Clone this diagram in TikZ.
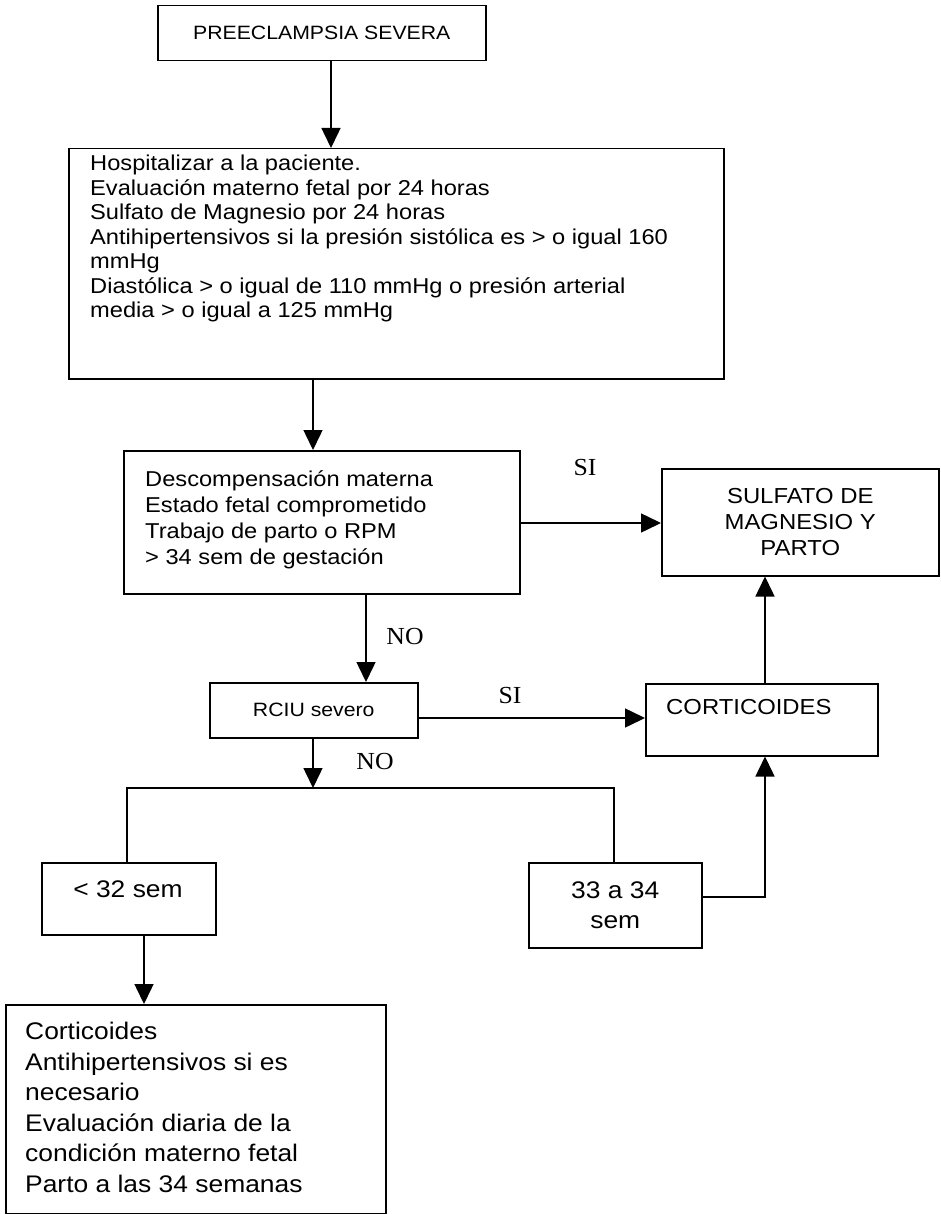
\documentclass[tikz,border=0pt]{standalone}
\usepackage{fontspec}
\setmainfont{Liberation Sans}[FakeStretch=1.1]
\newfontfamily\lblfont{Liberation Serif}[FakeStretch=1.05]
\usetikzlibrary{arrows.meta,calc}
\begin{document}
\begin{tikzpicture}[x=1pt,y=-1pt,
  box/.style={draw,line width=1.5pt,inner sep=0pt,anchor=north west,align=center},
  txt/.style={inner sep=0pt,align=left},
  link/.style={line width=1.5pt},
  arr/.style={link,-{Triangle[length=20pt,width=19pt]}},
  lbl/.style={font=\lblfont\fontsize{24.5}{25}\selectfont,inner sep=0pt}]
\useasboundingbox (0,0) rectangle (940,1214);
% boxes
\node[box,minimum width=328pt,minimum height=55pt,font=\fontsize{19.3}{24}\selectfont] (b1) at (157,5) {PREECLAMPSIA SEVERA};
\node[box,minimum width=655pt,minimum height=230pt] (b2) at (68,148) {};
\node[txt,anchor=north west,font=\fontsize{21.5}{24.5}\selectfont] (t2) at (90,155) {Hospitalizar a la paciente.\\
Evaluación materno fetal por 24 horas\\
Sulfato de Magnesio por 24 horas\\
Antihipertensivos si la presión sistólica es > o igual 160\\
mmHg\\
Diastólica > o igual de 110 mmHg o presión arterial\\
media > o igual a 125 mmHg};
\node[box,minimum width=396pt,minimum height=143pt] (b3) at (123,450) {};
\node[txt,anchor=north west,font=\fontsize{21.5}{26}\selectfont] (t3) at (145,470) {Descompensación materna\\
Estado fetal comprometido\\
Trabajo de parto o RPM\\
> 34 sem de gestación};
\node[box,minimum width=277pt,minimum height=107pt,font=\fontsize{21.7}{26}\selectfont] (b4) at (661,468) {SULFATO DE\\MAGNESIO Y\\PARTO};
\node[box,minimum width=208pt,minimum height=55pt,font=\fontsize{19.3}{24}\selectfont] (b5) at (209,682) {RCIU severo};
\node[box,minimum width=232pt,minimum height=72pt] (b6) at (645,683) {};
\node[txt,anchor=west,font=\fontsize{21.7}{26}\selectfont] (t6) at (666,707) {CORTICOIDES};
\node[box,minimum width=174pt,minimum height=72pt] (b7) at (41,862) {};
\node[txt,anchor=center,font=\fontsize{24}{30}\selectfont] (t7) at (128,889) {< 32 sem};
\node[box,minimum width=173pt,minimum height=85pt,font=\fontsize{24}{30}\selectfont] (b8) at (528,862) {33 a 34\\sem};
\node[box,minimum width=380pt,minimum height=209pt] (b9) at (5,1004) {};
\node[txt,anchor=north west,font=\fontsize{24}{30.5}\selectfont] (t9) at (25,1022) {Corticoides\\
Antihipertensivos si es\\
necesario\\
Evaluación diaria de la\\
condición materno fetal\\
Parto a las 34 semanas};
% column / row helpers
\coordinate (xa) at (331,0);
\coordinate (xb) at (313,0);
\coordinate (xc) at (366,0);
\coordinate (xd) at (765,0);
\coordinate (xe) at (127,0);
\coordinate (xf) at (614,0);
\coordinate (xg) at (144,0);
\coordinate (ya) at (0,523);
\coordinate (yb) at (0,718);
\coordinate (yc) at (0,788);
\coordinate (yd) at (0,897);
\coordinate (jn) at (313,788);
% connectors
\draw[arr] (b1.south -| xa) -- (b2.north -| xa);
\draw[arr] (b2.south -| xb) -- (b3.north -| xb);
\draw[arr] (b3.east |- ya) -- (b4.west |- ya);
\draw[arr] (b3.south -| xc) -- (b5.north -| xc);
\draw[arr] (b5.east |- yb) -- (b6.west |- yb);
\draw[arr] (b6.north -| xd) -- (b4.south -| xd);
\draw[arr] (b5.south -| xb) -- (jn);
\draw[link] (b7.north -| xe) -- (xe |- yc) -- (xf |- yc) -- (b8.north -| xf);
\draw[arr] (b7.south -| xg) -- (b9.north -| xg);
\draw[arr] (b8.east |- yd) -- (xd |- yd) -- (b6.south -| xd);
% labels
\node[lbl] (si1) at (585,468) {SI};
\node[lbl] (no1) at (405,637) {NO};
\node[lbl] (si2) at (510,696) {SI};
\node[lbl] (no2) at (375,762) {NO};
\end{tikzpicture}
\end{document}
